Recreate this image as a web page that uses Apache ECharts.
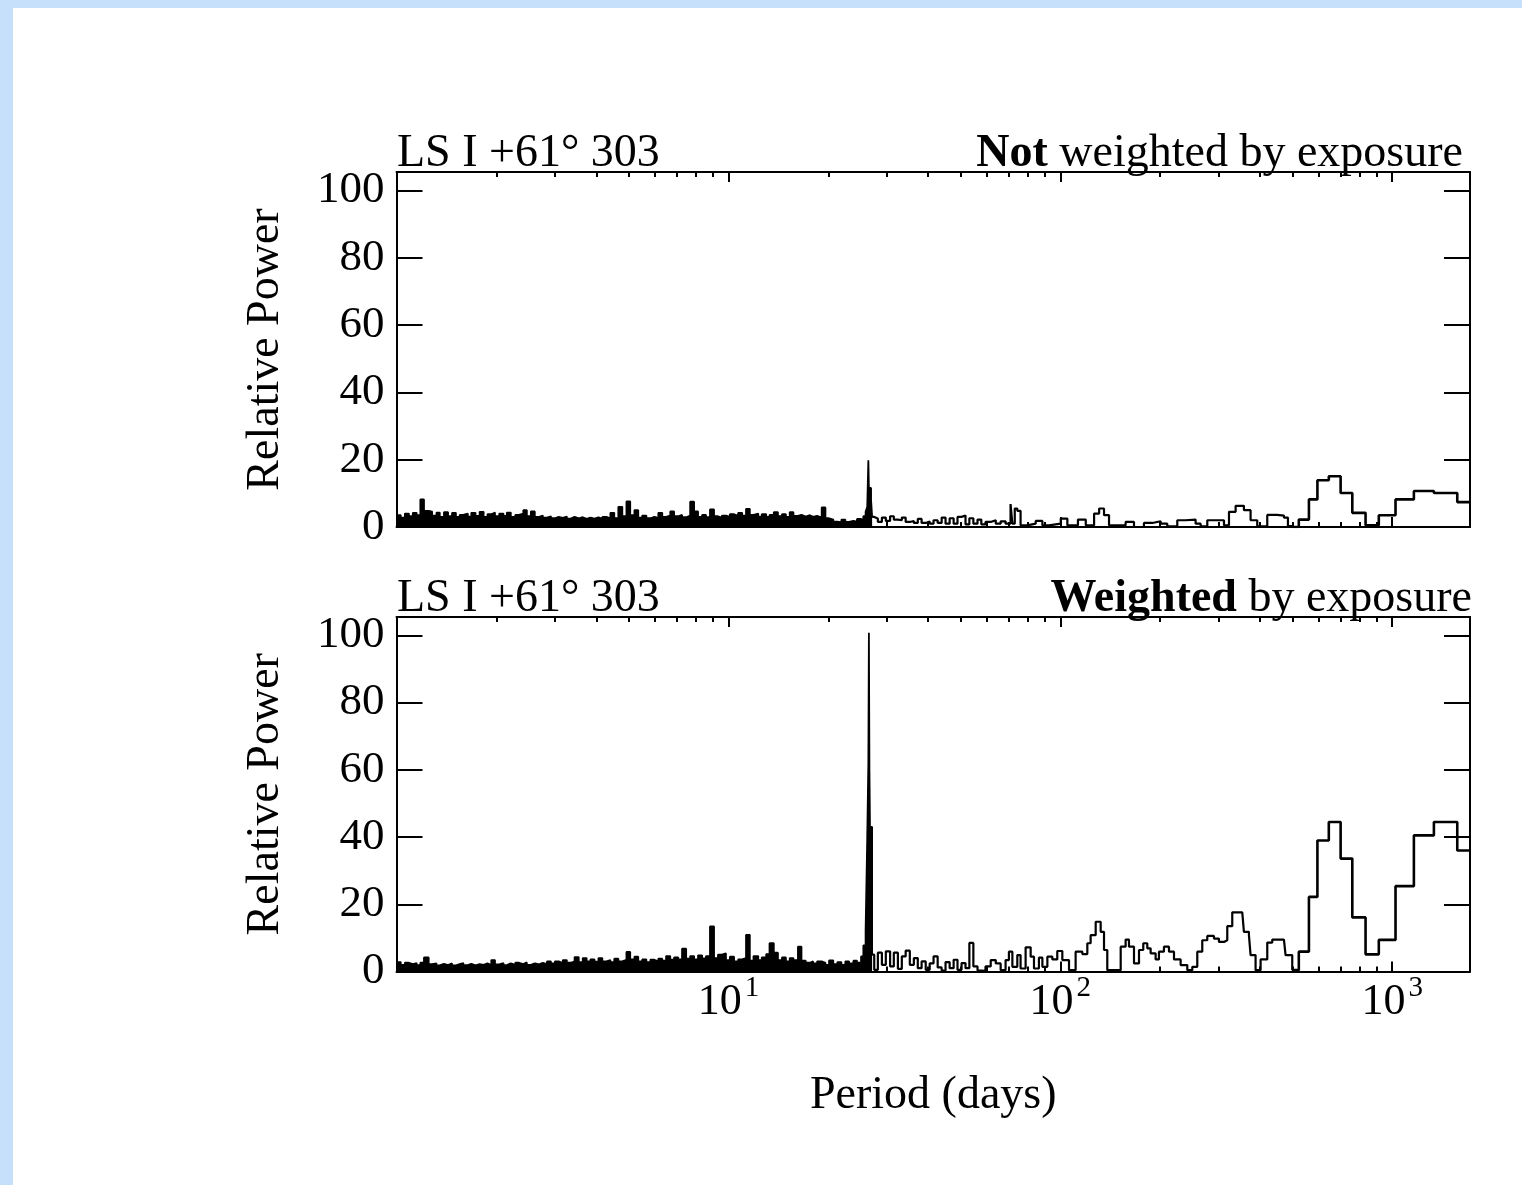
<!DOCTYPE html>
<html><head><meta charset="utf-8">
<script src="https://cdn.jsdelivr.net/npm/echarts@6/dist/echarts.min.js"></script>
<style>
html,body{margin:0;padding:0;background:#c6e0fb;width:1522px;height:1185px;overflow:hidden}
#c{position:absolute;left:13px;top:8px;width:1509px;height:1177px;background:#fff}
</style></head><body><div id="c"></div>
<script>
// ---------- data (period in days, relative power) ----------
const densePeriods = [1.00,1.03,1.06,1.09,1.12,1.15,1.18,1.21,1.25,1.28,
1.32,1.35,1.39,1.43,1.47,1.51,1.55,1.59,1.64,1.68,
1.73,1.78,1.83,1.88,1.93,1.98,2.04,2.10,2.15,2.21,
2.28,2.34,2.41,2.47,2.54,2.61,2.69,2.76,2.84,2.92,
3.00,3.08,3.17,3.26,3.35,3.44,3.54,3.64,3.74,3.84,
3.95,4.06,4.17,4.29,4.41,4.53,4.66,4.79,4.93,5.06,
5.21,5.35,5.50,5.66,5.82,5.98,6.15,6.32,6.49,6.68,
6.86,7.06,7.25,7.46,7.67,7.88,8.10,8.33,8.56,8.80,
9.05,9.30,9.56,9.83,10.1,10.4,10.7,11.0,11.3,11.6,
11.9,12.3,12.6,13.0,13.3,13.7,14.1,14.5,14.9,15.3,
15.7,16.2,16.6,17.1,17.6,18.0,18.5,19.1,19.6,20.1,
20.7,21.3,21.9,22.5,23.1,23.8,24.4,25.1,25.5,25.9,
26.2,26.4,26.5,26.6,26.7,26.9,27.1];
const topDense = [3.5,2.8,4.0,3.2,4.2,3.5,8.2,4.8,4.6,3.4,
4.3,3.0,4.4,3.2,4.2,3.0,3.6,4.0,3.1,4.2,
3.3,4.5,3.0,3.8,4.3,3.2,4.0,3.3,4.3,3.0,
3.6,4.0,5.0,3.2,4.6,3.0,3.4,2.8,3.2,2.6,
3.0,2.7,3.1,2.5,3.0,2.6,2.9,2.4,2.8,2.5,
2.9,2.4,3.0,2.6,4.2,2.6,6.0,3.2,7.6,3.5,
5.0,2.8,3.4,2.6,3.0,2.7,4.2,3.0,3.4,4.6,
3.2,3.6,2.9,3.4,7.5,4.6,3.0,3.6,2.9,5.2,
3.2,2.8,3.4,3.0,3.8,3.3,4.2,3.4,5.4,3.6,
4.0,3.1,3.8,3.0,3.6,4.4,3.2,3.8,3.0,4.4,
3.3,3.6,3.1,3.5,3.0,3.3,2.8,5.8,2.6,2.2,
1.6,1.4,2.2,1.5,1.8,1.6,2.4,2.0,3.2,4.5,
6.0,19.8,11.6,11.6,11.6,8.0,3.0];
const botDense = [2.8,2.0,2.6,2.2,2.5,1.9,2.6,4.2,2.2,2.4,
1.8,2.3,1.9,2.4,1.8,2.2,2.5,1.9,2.3,1.8,
2.2,2.0,2.4,1.9,3.4,2.1,2.5,1.9,2.4,2.0,
2.6,2.2,2.7,2.0,2.4,2.1,2.6,2.2,3.0,2.4,
3.0,2.5,3.4,2.6,3.0,4.3,2.8,4.0,3.0,3.6,
2.9,4.0,3.0,3.4,2.8,3.8,3.0,3.5,5.8,3.6,
4.4,3.0,3.6,2.8,3.5,3.0,3.8,3.2,4.6,3.5,
4.2,3.6,6.8,3.8,4.6,3.6,4.8,3.9,4.6,13.4,
4.0,5.0,5.4,3.4,4.4,3.0,3.6,4.0,10.9,3.2,
4.6,3.4,4.2,5.2,8.4,5.6,3.4,4.2,3.0,4.0,
3.4,7.4,3.2,2.6,3.0,2.4,3.0,2.6,2.0,3.3,
2.2,2.8,2.0,3.0,2.4,3.2,2.6,4.5,7.8,12.0,
40.0,62.0,100.8,60.0,43.0,43.0,5.0];

const topMidPeriods = [27.5,28.2,29.0,29.8,30.7,31.5,32.4,33.3,34.2,35.2,36.2,37.2,38.2,39.3,40.4,41.5,42.7,43.9,45.1,46.4,47.7,49.0,50.4,51.8,53.2,54.7,56.3,57.8,59.5,
61.7,63.9,66.1,68.4,70.8,71.7,72.9,74.2,75.9,79.5,84.3,88.3,92.4,100.3,105,113,119.3,126.4,130.9,135.4,
140.2,150.3,157.3,166.7,178.6,189.3,200.5,210,225.1,238.4,255.6,264.7,277.2,290.3,311.2,322.2,337.4,357.4,374.3,392,
420.2,450,471.7,485,499.7];
const topMid = [2.5,1.5,2.8,1.8,3.2,2.2,2.0,2.8,1.5,1.8,1.2,2.4,1.2,1.6,1.0,2.0,1.2,2.8,1.0,2.6,1.0,3.0,3.4,0.8,2.6,1.0,2.2,0.8,1.5,
2.0,1.0,1.7,1.0,6.8,1.0,5.5,4.8,0.5,1.0,1.8,0.5,1.0,2.5,0.5,2.2,0.5,4.0,5.5,3.5,
0.5,0.5,1.5,0,1.2,1.7,1.0,0.2,2.0,2.2,1.0,0.2,2.0,2.0,0.5,4.5,6.3,5.0,2.0,0.2,
3.6,3.4,2.8,0.3,0];

const botMidPeriods = [27.5,28.2,29.0,29.8,30.7,31.5,32.4,33.3,34.2,35.2,36.2,37.2,38.2,39.3,40.4,41.5,42.7,43.9,45.1,46.4,47.7,49.0,50.4,51.8,53.2,54.7,56.3,57.8,59.5,
61.7,63.9,66.1,68.4,70.0,71.7,74.2,75.9,78.6,81.4,83.3,86.2,88.3,91.4,94.6,97.9,101.4,106.2,111.2,116.5,
120.6,123.4,127.8,132.3,135.4,138.5,146.8,152.0,157.3,161.0,166.7,172.6,177.8,182.8,187.1,193.7,198.2,205.2,212.5,220.0,
230.4,241.3,249.8,258.6,267.7,277.2,290.3,300.5,311.2,318.4,329.6,353.3,357.4,370.0,374.3,387.5,401.2,420.2,435.1,471.7,477.1,499.7];
const botMid = [0.5,5.6,2.0,6.0,1.5,5.6,0.8,4.5,6.2,2.0,4.0,1.0,3.0,0.5,2.4,4.5,1.2,0.3,2.8,1.0,3.5,0.5,2.5,1.0,8.5,1.5,0.3,0.2,1.5,
3.4,2.4,0.4,3.4,5.9,1.4,4.9,0.9,7.2,4.4,0.9,4.1,1.4,4.4,3.6,6.1,3.4,0.4,5.9,5.2,
8.4,10.8,14.8,11.8,6.4,0.4,0.4,7.4,9.5,7.4,2.4,6.4,8.4,6.9,5.4,3.6,5.9,7.4,5.9,3.6,
1.9,0.4,1.4,5.9,9.3,10.6,9.8,8.8,9.3,13.5,17.6,17.6,11.8,10.8,4.9,0.4,3.6,8.6,9.5,9.5,4.9,0.4];

// long-period histogram bins (left edge in days)
const binEdges = [523, 561, 595, 644, 699, 758, 831, 911, 1023, 1162, 1335, 1570, 1715];
const topBins = [2.2, 8.2, 13.9, 15.1, 10.1, 4.2, 0.5, 3.5, 8.2, 10.7, 10.1, 7.4, 7.4];
const botBins = [5.9, 22.2, 39.0, 44.5, 33.6, 16.1, 5.1, 9.4, 25.4, 40.5, 44.5, 36.0, 36.0];

const majorTicks = [10, 100, 1000];
const minorTicks = [2,3,4,5,6,7,8,9,20,30,40,50,60,70,80,90,200,300,400,500,600,700,800,900];
const yTicks = [0, 20, 40, 60, 80, 100];

const titleSource = 'LS I +61\u00B0 303';
const titleTop = '{b|Not} weighted by exposure';
const titleBottom = '{b|Weighted} by exposure';
const yName = 'Relative Power';
const xName = 'Period (days)';

// ---------- chart ----------
const FONT = '"Liberation Serif", "Times New Roman", serif';
const K = '#000';
const axLine = {show: true, onZero: false, lineStyle: {color: K, width: 2}};
const zip = (ps, vs) => ps.map((p, i) => [p, vs[i]]);
const X_MIN = 1, X_MAX = 1715, Y_MAX = 105.5;

function xAxes(g, withLabels) {
  const base = {type: 'log', logBase: 10, min: X_MIN, max: X_MAX, gridIndex: g, splitLine: {show: false}};
  const major = {show: true, inside: true, length: 10, customValues: majorTicks, lineStyle: {color: K, width: 2}};
  const minor = {show: true, inside: true, length: 5, customValues: minorTicks, lineStyle: {color: K, width: 2}};
  return [
    Object.assign({}, base, {
      position: 'bottom', axisLine: axLine, axisTick: major,
      axisLabel: withLabels ? {
        show: true, customValues: majorTicks, margin: 9, color: K,
        formatter: v => '{b|10}{s|' + Math.round(Math.log10(v)) + '}',
        rich: {
          b: {fontFamily: FONT, fontSize: 44, color: K, lineHeight: 44, verticalAlign: 'bottom'},
          s: {fontFamily: FONT, fontSize: 29, color: K, lineHeight: 28, verticalAlign: 'bottom', padding: [0, 0, 22, 3]}
        }
      } : {show: false},
      name: withLabels ? xName : '', nameLocation: 'middle', nameGap: 101,
      nameTextStyle: {fontFamily: FONT, fontSize: 46, color: K}
    }),
    Object.assign({}, base, {position: 'bottom', axisLine: {show: false, onZero: false}, axisTick: minor, axisLabel: {show: false}}),
    Object.assign({}, base, {position: 'top', axisLine: axLine, axisTick: major, axisLabel: {show: false}}),
    Object.assign({}, base, {position: 'top', axisLine: {show: false, onZero: false}, axisTick: minor, axisLabel: {show: false}})
  ];
}
function yAxes(g) {
  const base = {type: 'value', min: 0, max: Y_MAX, gridIndex: g, splitLine: {show: false}};
  const tick = {show: true, inside: true, length: 26, customValues: yTicks, lineStyle: {color: K, width: 2}};
  return [
    Object.assign({}, base, {
      position: 'left', axisLine: axLine, axisTick: tick,
      axisLabel: {show: true, customValues: yTicks, margin: 12, color: K, fontFamily: FONT, fontSize: 45,
        formatter: v => (v % 20 === 0 ? String(v) : '')},
      name: yName, nameLocation: 'middle', nameRotate: 90, nameGap: 108,
      nameTextStyle: {fontFamily: FONT, fontSize: 46, color: K}
    }),
    Object.assign({}, base, {position: 'right', axisLine: axLine, axisTick: tick, axisLabel: {show: false}})
  ];
}
function panelSeries(p, dense, midP, mid, bins) {
  const xi = p * 4, yi = p * 2;
  const common = {type: 'line', xAxisIndex: xi, yAxisIndex: yi, symbol: 'none', showSymbol: false,
    animation: false, silent: true, step: 'end', lineStyle: {color: K, width: 2.2}, itemStyle: {color: K}};
  const denseData = zip(densePeriods, dense);
  const midData = [denseData[denseData.length - 1]].concat(zip(midP, mid));
  const binData = [midData[midData.length - 1]].concat(zip(binEdges, bins));
  return [
    Object.assign({}, common, {data: denseData, areaStyle: {color: K, opacity: 1}, lineStyle: {color: K, width: 1.8}}),
    Object.assign({}, common, {data: midData}),
    Object.assign({}, common, {data: binData, lineStyle: {color: K, width: 2.6}})
  ];
}

const GL = 383.5, GR = 52;
const option = {
  backgroundColor: '#fff',
  animation: false,
  grid: [
    {left: GL, right: GR, top: 164, height: 355, outerBoundsMode: 'none', containLabel: false},
    {left: GL, right: GR, top: 609, height: 354.5, outerBoundsMode: 'none', containLabel: false}
  ],
  xAxis: xAxes(0, false).concat(xAxes(1, true)),
  yAxis: yAxes(0).concat(yAxes(1)),
  series: panelSeries(0, topDense, topMidPeriods, topMid, topBins)
    .concat(panelSeries(1, botDense, botMidPeriods, botMid, botBins)),
  graphic: [
    {type: 'text', x: 384, y: 146, style: {text: titleSource, font: '46px ' + FONT, fill: K, align: 'left', verticalAlign: 'middle'}},
    {type: 'text', x: 1450, y: 146, style: {text: titleTop, font: '46px ' + FONT, fill: K, align: 'right', verticalAlign: 'middle',
      rich: {b: {font: 'bold 46px ' + FONT, fill: K}}}},
    {type: 'text', x: 384, y: 591, style: {text: titleSource, font: '46px ' + FONT, fill: K, align: 'left', verticalAlign: 'middle'}},
    {type: 'text', x: 1459, y: 591, style: {text: titleBottom, font: '46px ' + FONT, fill: K, align: 'right', verticalAlign: 'middle',
      rich: {b: {font: 'bold 46px ' + FONT, fill: K}}}}
  ]
};
const chart = echarts.init(document.getElementById('c'), null, {renderer: 'canvas'});
chart.setOption(option);
</script></body></html>
